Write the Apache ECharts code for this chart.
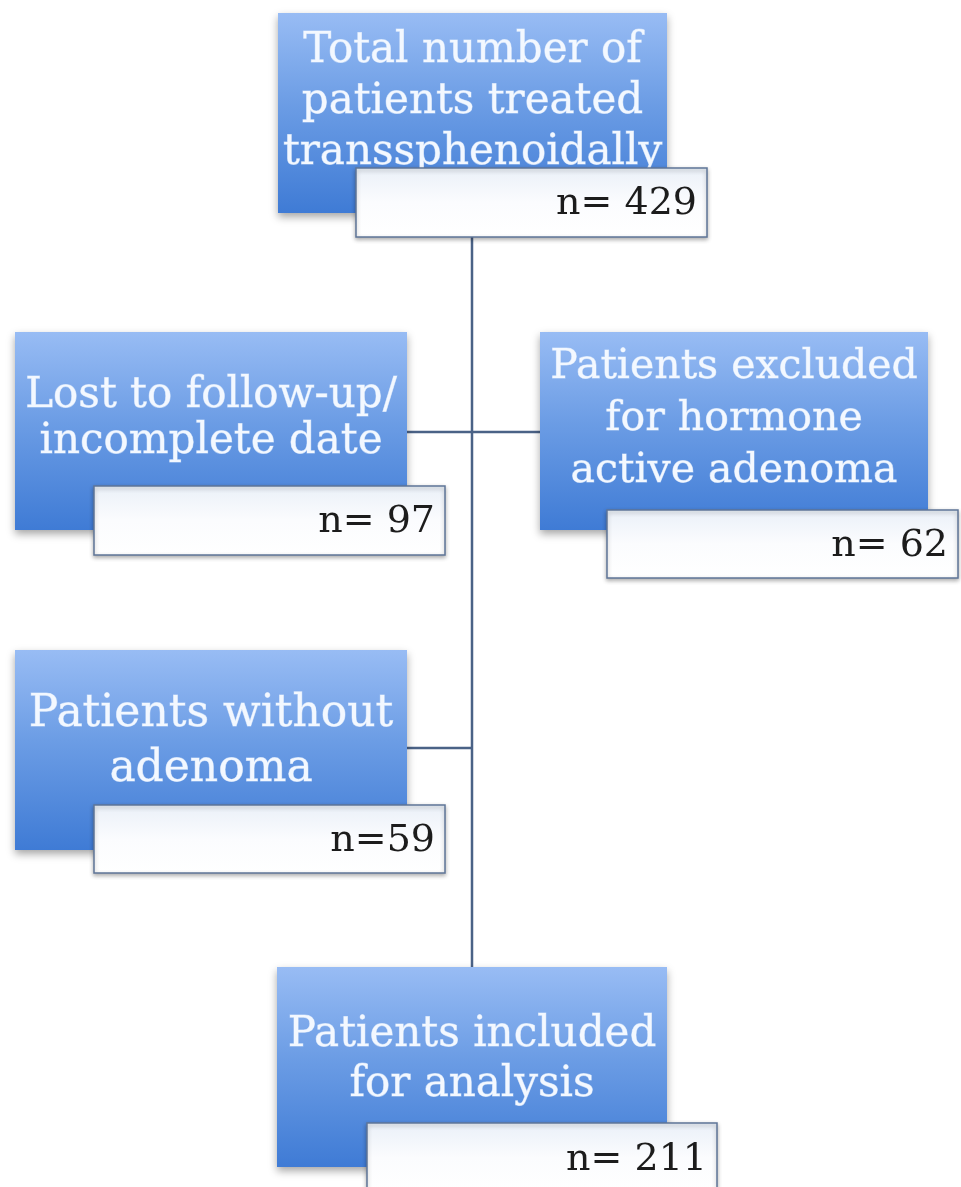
<!DOCTYPE html>
<html>
<head>
<meta charset="utf-8">
<script src="https://cdn.jsdelivr.net/npm/echarts@6/dist/echarts.min.js"></script>
<style>
html,body{margin:0;padding:0;background:#ffffff;}
#chart{width:961px;height:1187px;}
</style>
</head>
<body>
<div id="chart"></div>
<script>
// ---- data ----
const nodeLabels = [
  'Total number of\npatients treated\ntranssphenoidally',
  'Lost to follow-up/\nincomplete date',
  'Patients excluded\nfor hormone\nactive adenoma',
  'Patients without\nadenoma',
  'Patients included\nfor analysis'
];
const nodeCounts = [429, 97, 62, 59, 211];
const countSeparators = ['n= ', 'n= ', 'n= ', 'n=', 'n= '];

// ---- layout (chart units = pixels of the page) ----
const boxLayout = [
  {blue: [278, 13, 389, 200],  white: [356, 168, 351, 69], textY: 102,  fs: 42, lh: 51},
  {blue: [15, 332, 392, 198],  white: [94, 486, 351, 69],  textY: 419,  fs: 42, lh: 46},
  {blue: [540, 332, 388, 198], white: [607, 510, 351, 68], textY: 419,  fs: 41, lh: 52},
  {blue: [15, 650, 392, 200],  white: [94, 805, 351, 68],  textY: 742,  fs: 44, lh: 55},
  {blue: [277, 967, 390, 200], white: [367, 1123, 350, 70], textY: 1060, fs: 42, lh: 50}
];
const connectorLayout = [
  [472, 237, 472, 967],
  [407, 432, 540, 432],
  [407, 748, 472, 748]
];

const chart = echarts.init(document.getElementById('chart'), null, {renderer: 'canvas'});

function rectPx(api, r) {
  const p1 = api.coord([r[0], r[1]]);
  const p2 = api.coord([r[0] + r[2], r[1] + r[3]]);
  return {
    x: Math.min(p1[0], p2[0]), y: Math.min(p1[1], p2[1]),
    width: Math.abs(p2[0] - p1[0]), height: Math.abs(p2[1] - p1[1])
  };
}

const option = {
  animation: false,
  backgroundColor: '#ffffff',
  grid: {left: 0, right: 0, top: 0, bottom: 0},
  xAxis: {type: 'value', min: 0, max: 961, show: false},
  yAxis: {type: 'value', min: 0, max: 1187, inverse: true, show: false},
  series: [
    {
      type: 'custom',
      z: 1,
      data: connectorLayout.map((c, i) => [i, 0]),
      renderItem: function (params, api) {
        const c = connectorLayout[params.dataIndex];
        const a = api.coord([c[0], c[1]]);
        const b = api.coord([c[2], c[3]]);
        return {
          type: 'line',
          shape: {x1: a[0], y1: a[1], x2: b[0], y2: b[1]},
          style: {stroke: '#4a6286', lineWidth: 2.5}
        };
      }
    },
    {
      type: 'custom',
      z: 2,
      data: nodeLabels.map((l, i) => [i, 0]),
      renderItem: function (params, api) {
        const i = params.dataIndex;
        const L = boxLayout[i];
        const br = rectPx(api, L.blue);
        const wr = rectPx(api, L.white);
        const ty = api.coord([0, L.textY])[1];
        return {
          type: 'group',
          children: [
            {
              type: 'rect',
              shape: br,
              style: {
                fill: new echarts.graphic.LinearGradient(0, 0, 0, 1, [
                  {offset: 0, color: '#98bcf4'},
                  {offset: 0.45, color: '#6c9de5'},
                  {offset: 1, color: '#3f7bd5'}
                ]),
                shadowColor: 'rgba(0,0,0,0.35)',
                shadowBlur: 8,
                shadowOffsetY: 4
              }
            },
            {
              type: 'text',
              style: {
                text: nodeLabels[i],
                x: br.x + br.width / 2,
                y: ty,
                align: 'center',
                verticalAlign: 'middle',
                fontFamily: '"DejaVu Serif", serif',
                fontSize: L.fs,
                lineHeight: L.lh,
                fill: '#f3f8ff',
                stroke: 'rgba(235,244,255,0.55)',
                lineWidth: 0.8,
                shadowColor: 'rgba(210,230,255,0.9)',
                shadowBlur: 3
              }
            },
            {
              type: 'rect',
              shape: wr,
              style: {
                fill: new echarts.graphic.LinearGradient(0, 0, 0, 1, [
                  {offset: 0, color: '#eaf0f8'},
                  {offset: 0.5, color: '#fbfcfe'},
                  {offset: 1, color: '#ffffff'}
                ]),
                stroke: '#5f7598',
                lineWidth: 1.5,
                shadowColor: 'rgba(0,0,0,0.3)',
                shadowBlur: 4,
                shadowOffsetY: 2
              }
            },
            {
              type: 'text',
              style: {
                text: countSeparators[i] + nodeCounts[i],
                x: wr.x + wr.width - 10,
                y: wr.y + wr.height / 2 + 2,
                align: 'right',
                verticalAlign: 'middle',
                fontFamily: '"DejaVu Serif", serif',
                fontSize: 38,
                fill: '#1c1c1c'
              }
            }
          ]
        };
      }
    }
  ]
};
chart.setOption(option);
</script>
</body>
</html>
